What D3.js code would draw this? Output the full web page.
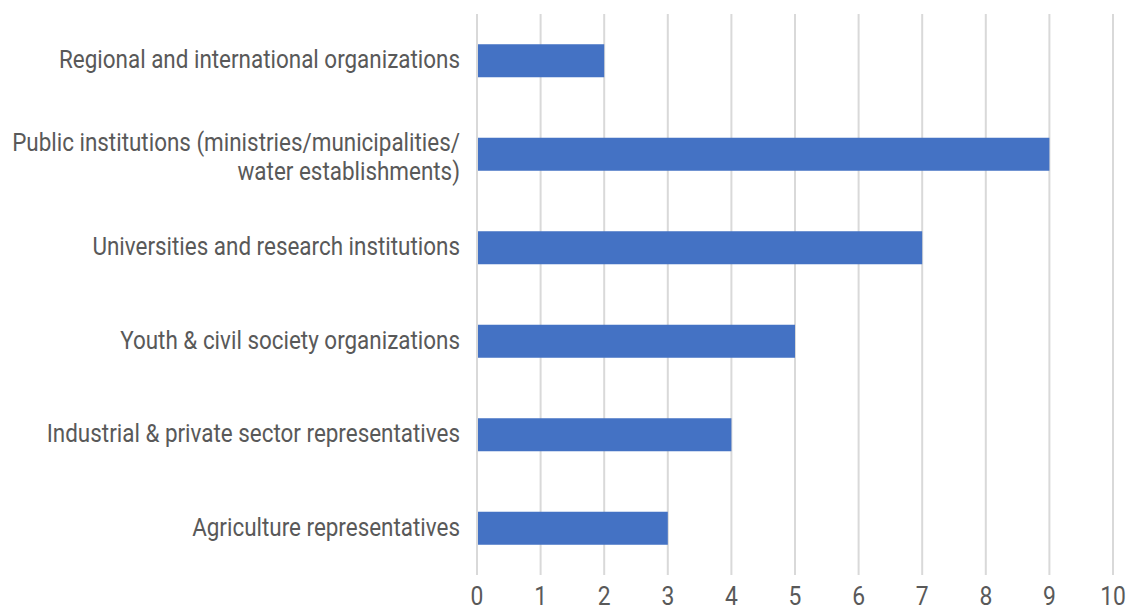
<!DOCTYPE html>
<html>
<head>
<meta charset="utf-8">
<script src="https://cdn.jsdelivr.net/npm/d3@7"></script>
<style>
  body { margin: 0; background: #fff; }
  text { font-family: Roboto, sans-serif; }
</style>
</head>
<body>
<div id="chart"></div>
<script>
// categories top to bottom, label lines split where the original wraps
const categories = [
  ['Regional and international organizations'],
  ['Public institutions (ministries/municipalities/', 'water establishments)'],
  ['Universities and research institutions'],
  ['Youth & civil society organizations'],
  ['Industrial & private sector representatives'],
  ['Agriculture representatives']
];
const values = [2, 9, 7, 5, 4, 3];
const xTicks = [0, 1, 2, 3, 4, 5, 6, 7, 8, 9, 10];

const W = 1130, H = 607;
const plotLeft = 477, plotRight = 1113, plotTop = 14, plotBottom = 575;
const squeeze = 0.88; // condensed look, no condensed font installed

const svg = d3.select('#chart')
  .append('svg')
  .attr('width', W)
  .attr('height', H);

const x = d3.scaleLinear()
  .domain([0, 10])
  .range([plotLeft, plotRight]);

const keys = categories.map((c, i) => i);
const y = d3.scaleBand()
  .domain(keys)
  .range([plotTop, plotBottom])
  .paddingInner(0.647)
  .paddingOuter(0.3235);

// gridlines
svg.append('g')
  .selectAll('line')
  .data(xTicks)
  .enter().append('line')
  .attr('x1', d => x(d))
  .attr('x2', d => x(d))
  .attr('y1', plotTop)
  .attr('y2', plotBottom)
  .attr('stroke', '#d9d9d9')
  .attr('stroke-width', 2);

// bars
svg.selectAll('.bar')
  .data(values)
  .enter().append('rect')
  .attr('class', 'bar')
  .attr('x', x(0) + 1)
  .attr('y', (d, i) => y(i))
  .attr('width', d => x(d) - x(0) - 1)
  .attr('height', y.bandwidth())
  .attr('fill', '#4472c4');

// x tick labels
svg.append('g')
  .selectAll('text')
  .data(xTicks)
  .enter().append('text')
  .attr('transform', d => `translate(${x(d)},${H - 2}) scale(${squeeze},1)`)
  .attr('text-anchor', 'middle')
  .attr('font-size', '26px')
  .attr('fill', '#595959')
  .text(d => d);

// category labels
const lineH = 29;
const labels = svg.append('g')
  .selectAll('text')
  .data(categories)
  .enter().append('text')
  .attr('transform', (d, i) => `translate(${plotLeft - 17},${y(i) + y.bandwidth() / 2}) scale(${squeeze},1)`)
  .attr('text-anchor', 'end')
  .attr('font-size', '25.5px')
  .attr('fill', '#595959');

labels.each(function(lines) {
  const t = d3.select(this);
  const n = lines.length;
  lines.forEach((ln, j) => {
    t.append('tspan')
      .attr('x', 0)
      .attr('y', (j - (n - 1) / 2) * lineH + 7.5 + (n - 1) * 3.5)
      .text(ln);
  });
});
</script>
</body>
</html>
